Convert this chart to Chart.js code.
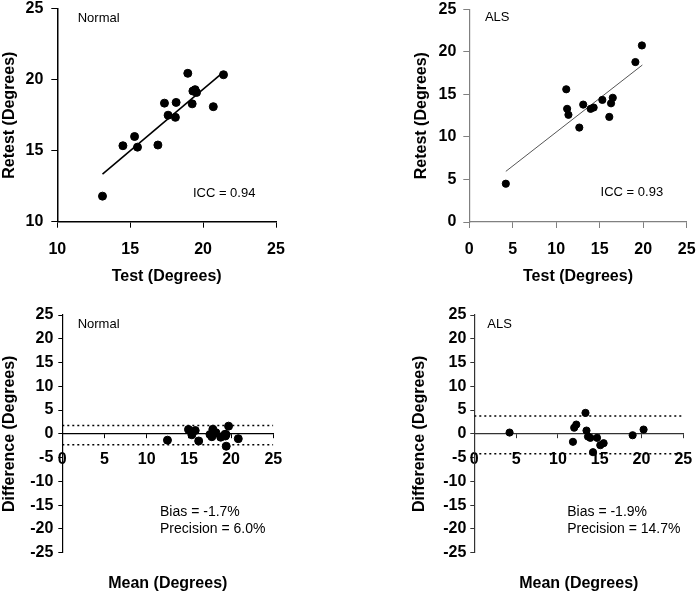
<!DOCTYPE html>
<html>
<head>
<meta charset="utf-8">
<script src="https://cdn.jsdelivr.net/npm/chart.js@4.4.1/dist/chart.umd.min.js"></script>
<style>
  html, body { margin: 0; padding: 0; background: #fff; }
  #wrap { position: relative; width: 699px; height: 594px; overflow: hidden; }
  canvas { position: absolute; }
</style>
</head>
<body>
<div id="wrap">
  <canvas id="c1" width="300" height="290" style="left:0;top:0"></canvas>
  <canvas id="c2" width="329" height="290" style="left:370px;top:0"></canvas>
  <canvas id="c3" width="300" height="304" style="left:0;top:290px"></canvas>
  <canvas id="c4" width="329" height="304" style="left:370px;top:290px"></canvas>
</div>
<script>
// top left: Normal, test vs retest
const normalTest   = [13.1, 14.5, 15.3, 15.5, 16.9, 17.35, 17.6, 18.1, 18.15, 18.95, 19.25, 19.3, 19.45, 19.55, 20.7, 21.4];
const normalRetest = [11.8, 15.35, 16.0, 15.25, 15.4, 18.35, 17.5, 17.35, 18.4, 20.45, 18.3, 19.2, 19.3, 19.1, 18.1, 20.35];
const normalFitX = [13.1, 21.35];
const normalFitY = [13.35, 20.5];

// top right: ALS, test vs retest
const alsTest   = [4.2, 11.15, 11.25, 11.4, 12.65, 13.1, 13.95, 14.3, 15.3, 16.1, 16.3, 16.5, 19.1, 19.85];
const alsRetest = [4.5, 15.6, 13.3, 12.6, 11.1, 13.8, 13.3, 13.45, 14.35, 12.35, 13.95, 14.6, 18.8, 20.75];
const alsFitX = [4.2, 19.9];
const alsFitY = [5.95, 18.45];

// bottom left: Normal, Bland-Altman
const normalMean = [12.46, 14.95, 15.75, 15.35, 16.16, 17.84, 17.5, 17.72, 18.2, 19.7, 18.77, 19.28, 19.4, 19.32, 19.42, 20.85];
const normalDiff = [-1.33, 0.92, 0.7, -0.2, -1.5, 0.97, -0.14, -0.6, 0.25, 1.62, -0.7, -0.1, -0.15, -0.45, -2.6, -1.02];
const normalLimits = [1.75, -2.3];

// bottom right: ALS, Bland-Altman
const alsMean = [4.22, 13.3, 12.2, 11.95, 11.8, 13.42, 13.6, 13.88, 14.68, 14.2, 15.07, 15.47, 18.94, 20.25];
const alsDiff = [0.27, 4.41, 1.95, 1.3, -1.68, 0.69, -0.57, -0.84, -0.84, -3.86, -2.39, -1.97, -0.29, 0.9];
const alsLimits = [3.75, -4.2];

const limitSpan = [0, 25];
const tickStep = 5;

const FONT = "'Liberation Sans', Arial, Helvetica, sans-serif";
const bold16 = { family: FONT, size: 16, weight: 'bold' };

function pts(xs, ys) {
  return xs.map((v, i) => ({ x: v, y: ys[i] }));
}

// text notes placed in data units
const notesPlugin = {
  id: 'notes',
  afterDatasetsDraw(chart, args, opts) {
    const { ctx, scales } = chart;
    ctx.save();
    ctx.fillStyle = '#000';
    ctx.textAlign = 'left';
    ctx.textBaseline = 'middle';
    (opts.items || []).forEach(n => {
      ctx.font = n.size + 'px ' + FONT;
      ctx.fillText(n.text, scales.x.getPixelForValue(n.x), scales.y.getPixelForValue(n.y));
    });
    ctx.restore();
  }
};

function scale(min, max, o) {
  return {
    type: 'linear',
    min: min, max: max,
    position: o.position,
    ticks: { stepSize: tickStep, color: '#000', font: bold16, padding: o.pad },
    grid: { drawOnChartArea: false, drawTicks: true, tickLength: o.tl, color: o.color, tickColor: o.color },
    border: { display: true, color: o.color, width: o.bw },
    title: { display: !!o.title, text: o.title, color: '#000', font: bold16, padding: 0 },
    afterFit: s => {
      if (s.isHorizontal()) {
        if (o.size) s.height = o.size;
        s.paddingLeft = 0; s.paddingRight = 0;
      } else {
        s.width = o.size;
        s.paddingTop = 0; s.paddingBottom = 0;
      }
    }
  };
}

function titleOnly(text, size) {
  return {
    type: 'linear', position: 'bottom', min: 0, max: 25,
    ticks: { display: false },
    grid: { display: false },
    border: { display: false },
    title: { display: true, text: text, color: '#000', font: bold16, padding: 0 },
    afterFit: s => { s.height = size; s.paddingLeft = 0; s.paddingRight = 0; }
  };
}

function baseOptions(padding, notes, scales) {
  return {
    responsive: false,
    animation: false,
    layout: { padding: padding },
    plugins: { legend: { display: false }, tooltip: { enabled: false }, notes: { items: notes } },
    scales: scales
  };
}

// Normal: test-retest
new Chart(document.getElementById('c1'), {
  type: 'scatter',
  data: {
    datasets: [
      { data: pts(normalTest, normalRetest), backgroundColor: '#000', borderColor: '#000', pointRadius: 4 },
      { data: pts(normalFitX, normalFitY), showLine: true, borderColor: '#000', borderWidth: 1.6, pointRadius: 0 }
    ]
  },
  options: baseOptions(
    { left: 0, top: 8.7, right: 24, bottom: 3.4 },
    [ { text: 'Normal', x: 11.4, y: 24.35, size: 13 }, { text: 'ICC = 0.94', x: 19.3, y: 12.0, size: 13 } ],
    {
      x: scale(10, 25, { position: 'bottom', pad: 12, tl: 6, color: '#000', bw: 1.5, title: 'Test (Degrees)', size: 64.9 }),
      y: scale(10, 25, { position: 'left', pad: 8, tl: 6, color: '#000', bw: 1.5, title: 'Retest (Degrees)', size: 57.3 })
    }
  ),
  plugins: [notesPlugin]
});

// ALS: test-retest
new Chart(document.getElementById('c2'), {
  type: 'scatter',
  data: {
    datasets: [
      { data: pts(alsTest, alsRetest), backgroundColor: '#000', borderColor: '#000', pointRadius: 3.6 },
      { data: pts(alsFitX, alsFitY), showLine: true, borderColor: '#555', borderWidth: 1, pointRadius: 0 }
    ]
  },
  options: baseOptions(
    { left: 42.1, top: 9.3, right: 12.3, bottom: 3.4 },
    [ { text: 'ALS', x: 1.8, y: 24.1, size: 13 }, { text: 'ICC = 0.93', x: 15.1, y: 3.45, size: 13 } ],
    {
      x: scale(0, 25, { position: 'bottom', pad: 12, tl: 6, color: '#808080', bw: 1.2, title: 'Test (Degrees)', size: 64.6 }),
      y: scale(0, 25, { position: 'left', pad: 7, tl: 6, color: '#808080', bw: 1.2, title: 'Retest (Degrees)', size: 57.2 })
    }
  ),
  plugins: [notesPlugin]
});

function limitSets(limits) {
  return limits.map(v => ({
    data: pts(limitSpan, limitSpan.map(() => v)),
    showLine: true, borderColor: '#000', borderWidth: 1.5, borderDash: [2, 3], pointRadius: 0
  }));
}

// Normal: Bland-Altman
new Chart(document.getElementById('c3'), {
  type: 'scatter',
  data: {
    datasets: limitSets(normalLimits).concat([
      { data: pts(normalMean, normalDiff), backgroundColor: '#000', borderColor: '#000', pointRadius: 4 }
    ])
  },
  options: baseOptions(
    { left: 0, top: 25, right: 26.7, bottom: 0.4 },
    [
      { text: 'Normal', x: 1.82, y: 23.1, size: 13 },
      { text: 'Bias = -1.7%', x: 11.58, y: -16.5, size: 14 },
      { text: 'Precision = 6.0%', x: 11.58, y: -19.96, size: 14 }
    ],
    {
      x: scale(0, 25, { position: { y: 0 }, pad: 12, tl: 4, color: '#000', bw: 1.2 }),
      y: scale(-25, 25, { position: 'left', pad: 5, tl: 4, color: '#000', bw: 1.2, title: 'Difference (Degrees)', size: 62.3 }),
      xt: titleOnly('Mean (Degrees)', 40.9)
    }
  ),
  plugins: [notesPlugin]
});

// ALS: Bland-Altman
new Chart(document.getElementById('c4'), {
  type: 'scatter',
  data: {
    datasets: limitSets(alsLimits).concat([
      { data: pts(alsMean, alsDiff), backgroundColor: '#000', borderColor: '#000', pointRadius: 3.6 }
    ])
  },
  options: baseOptions(
    { left: 40.4, top: 25, right: 15.7, bottom: 0.4 },
    [
      { text: 'ALS', x: 1.55, y: 23.1, size: 13 },
      { text: 'Bias = -1.9%', x: 11.12, y: -16.5, size: 14 },
      { text: 'Precision = 14.7%', x: 11.12, y: -19.96, size: 14 }
    ],
    {
      x: scale(0, 25, { position: { y: 0 }, pad: 12, tl: 4, color: '#333', bw: 1.2 }),
      y: scale(-25, 25, { position: 'left', pad: 4, tl: 4, color: '#333', bw: 1.2, title: 'Difference (Degrees)', size: 63.9 }),
      xt: titleOnly('Mean (Degrees)', 40.9)
    }
  ),
  plugins: [notesPlugin]
});
</script>
</body>
</html>
